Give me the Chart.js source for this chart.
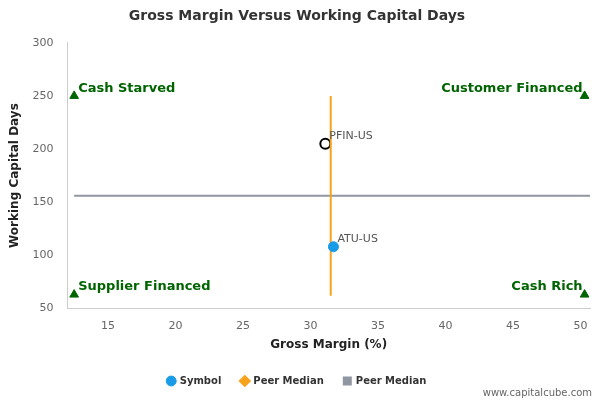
<!DOCTYPE html>
<html><head><meta charset="utf-8">
<script src="https://cdn.jsdelivr.net/npm/chart.js@4/dist/chart.umd.min.js"></script>
<style>html,body{margin:0;padding:0;background:#fff}#w{position:relative;width:600px;height:400px}</style>
</head><body><div id="w"><canvas id="c" width="600" height="400"></canvas></div>
<script>
const symbolPoint = [{x: 31.7, y: 108, label: 'ATU-US'}];
const peerPoint = [{x: 31.1, y: 205, label: 'PFIN-US'}];
const medianX = 31.5;
const medianY = 156;
const vLine = [{x: medianX, y: 250}, {x: medianX, y: 62}];
const hLine = [{x: 12.5, y: medianY}, {x: 50.7, y: medianY}];
const corners = [
  {x: 12.5, y: 250, label: 'Cash Starved', align: 'left'},
  {x: 50.3, y: 250, label: 'Customer Financed', align: 'right'},
  {x: 12.5, y: 63, label: 'Supplier Financed', align: 'left'},
  {x: 50.3, y: 63, label: 'Cash Rich', align: 'right'}
];
const xTicks = [15, 20, 25, 30, 35, 40, 45, 50];
const yTicks = [50, 100, 150, 200, 250, 300];
const F = 'DejaVu Sans';

const labelPlugin = {
  id: 'labels',
  afterDatasetsDraw(chart) {
    const {ctx, scales: {x, y}} = chart;
    ctx.save();
    ctx.font = 'bold 13px ' + F; ctx.fillStyle = '#006400'; ctx.textBaseline = 'bottom';
    corners.forEach(c => {
      const px = x.getPixelForValue(c.x), py = y.getPixelForValue(c.y);
      ctx.textAlign = c.align;
      ctx.fillText(c.label, c.align === 'left' ? px + 4 : px - 2, py - 1);
    });
    ctx.font = '11px ' + F; ctx.fillStyle = '#555'; ctx.textAlign = 'left';
    peerPoint.concat(symbolPoint).forEach(p => {
      ctx.fillText(p.label, x.getPixelForValue(p.x) + 4, y.getPixelForValue(p.y) - 2);
    });
    ctx.font = '10px ' + F; ctx.fillStyle = '#666'; ctx.textAlign = 'right'; ctx.textBaseline = 'alphabetic';
    ctx.fillText('www.capitalcube.com', 592, 396);
    ctx.restore();
  }
};

new Chart(document.getElementById('c'), {
  type: 'scatter',
  data: { datasets: [
    {label: 'Symbol', data: symbolPoint, backgroundColor: '#1a9be8', borderColor: '#1a9be8', pointRadius: 5, pointStyle: 'circle'},
    {label: 'Peer Median', data: vLine, showLine: true, borderColor: '#f7a21b', backgroundColor: '#f7a21b', borderWidth: 2, pointRadius: 0, pointStyle: 'rectRot'},
    {label: 'Peer Median', data: hLine, showLine: true, borderColor: '#9096a2', backgroundColor: '#9096a2', borderWidth: 2, pointRadius: 0, pointStyle: 'rect'},
    {label: 'peer', data: peerPoint, backgroundColor: '#fff', borderColor: '#000', borderWidth: 2, pointRadius: 5},
    {label: 'corners', data: corners, backgroundColor: '#006400', borderColor: '#006400', pointStyle: 'triangle', pointRadius: 5}
  ]},
  options: {
    responsive: false, animation: false,
    layout: {padding: {left: 4, right: 10, top: 0, bottom: 4}},
    plugins: {
      title: {display: true, text: 'Gross Margin Versus Working Capital Days', color: '#333', font: {family: F, size: 14, weight: 'bold'}, padding: {top: 8, bottom: 18}},
      legend: {position: 'bottom', labels: {usePointStyle: true, boxWidth: 7, boxHeight: 7, color: '#333', font: {family: F, size: 10, weight: 'bold'}, padding: 20,
        filter: i => i.datasetIndex < 3}},
      tooltip: {enabled: false}
    },
    scales: {
      x: {type: 'linear', min: 12, max: 50.7, afterBuildTicks: s => { s.ticks = xTicks.map(v => ({value: v})); },
        grid: {display: false, drawTicks: true}, border: {color: '#ccc'},
        ticks: {color: '#666', font: {family: F, size: 11}},
        title: {display: true, text: 'Gross Margin (%)', color: '#222', font: {family: F, size: 12, weight: 'bold'}, padding: {top: 2, bottom: 4}}},
      y: {type: 'linear', min: 50, max: 300, afterBuildTicks: s => { s.ticks = yTicks.map(v => ({value: v})); },
        grid: {display: false}, border: {color: '#ccc'},
        ticks: {color: '#666', font: {family: F, size: 11}, padding: 6},
        title: {display: true, text: 'Working Capital Days', color: '#222', font: {family: F, size: 12, weight: 'bold'}}}
    }
  },
  plugins: [labelPlugin]
});
</script></body></html>
